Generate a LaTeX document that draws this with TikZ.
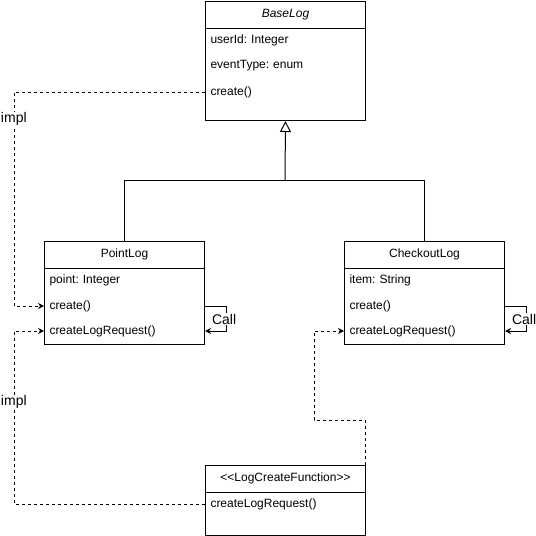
\documentclass[tikz,border=0pt]{standalone}
\usepackage{fontspec}
\setmainfont{Liberation Sans}
\usetikzlibrary{arrows.meta}
\frenchspacing

\tikzset{
  every picture/.style={x=1pt, y=-1pt, line width=1pt},
  classbox/.style={draw, minimum width=160pt, inner sep=0pt, anchor=north west},
  header/.style={minimum width=160pt, minimum height=26pt, inner sep=0pt, anchor=north west, font=\fontsize{12}{14}\selectfont},
  member/.style={text width=150pt, inner xsep=5pt, inner ysep=0pt, minimum height=26pt, align=left, anchor=west, font=\fontsize{12}{14}\selectfont},
  impl/.style={dash pattern=on 3pt off 3pt, -{Stealth[length=6pt,width=6pt]}},
  call/.style={-{Stealth[length=6pt,width=6pt]}},
  inherit/.style={-{Triangle[open,length=11pt,width=11pt]}},
  note/.style={font=\fontsize{14}{16}\selectfont, inner sep=0.5pt, anchor=west}
}

\begin{document}
\begin{tikzpicture}
  \useasboundingbox (0,0) rectangle (536,536);

  % BaseLog
  \node[classbox, minimum height=119pt] (base) at (205,1) {};
  \node[header] (base-h) at (205,1) {\itshape BaseLog};
  \draw (base-h.south west) -- (base-h.south east);
  \node[member] (base-id) at (205,40) {userId: Integer};
  \node[member] (base-ev) at (205,66) {eventType: enum};
  \node[member] (base-create) at (205,92) {create()};

  % PointLog
  \node[classbox, minimum height=103pt] (point) at (44,241) {};
  \node[header] (point-h) at (44,241) {PointLog};
  \draw (point-h.south west) -- (point-h.south east);
  \node[member] (point-pt) at (44,280) {point: Integer};
  \node[member] (point-create) at (44,306) {create()};
  \node[member] (point-req) at (44,331) {createLogRequest()};

  % CheckoutLog
  \node[classbox, minimum height=103pt] (check) at (344,241) {};
  \node[header] (check-h) at (344,241) {CheckoutLog};
  \draw (check-h.south west) -- (check-h.south east);
  \node[member] (check-item) at (344,280) {item: String};
  \node[member] (check-create) at (344,306) {create()};
  \node[member] (check-req) at (344,331) {createLogRequest()};

  % LogCreateFunction
  \node[classbox, minimum height=70pt] (fn) at (205,465) {};
  \node[header] (fn-h) at (205,465) {<{}<LogCreateFunction>{}>};
  \draw (fn-h.south west) -- (fn-h.south east);
  \node[member] (fn-req) at (205,504) {createLogRequest()};

  % inheritance
  \coordinate (fork) at (285,180);
  \draw (point.north) |- (check.north |- fork) -- (check.north);
  \draw[inherit] (fork) -- (base.south);

  % self calls
  \draw[call] (point-create.east) -- ++(21,0) |- (point-req.east);
  \node[note, fill=white] (point-call) at (211,319) {Call};
  \draw[call] (check-create.east) -- ++(21,0) |- (check-req.east);
  \node[note, fill=white] (check-call) at (511,319) {Call};

  % impl links
  \coordinate (rail) at (14,0);
  \coordinate (rail2) at (314,420);
  \draw[impl] (base-create.west) -- (base-create.west -| rail) |- (point-create.west);
  \draw[impl] (fn-req.west) -- (fn-req.west -| rail) |- (point-req.west);
  \draw[impl] ([xshift=-1pt]fn.north east) |- (rail2) |- (check-req.west);
  \node[note, fill=white] (impl1) at (0,119) {impl};
  \node[note, fill=white] (impl2) at (0,402) {impl};
\end{tikzpicture}
\end{document}
